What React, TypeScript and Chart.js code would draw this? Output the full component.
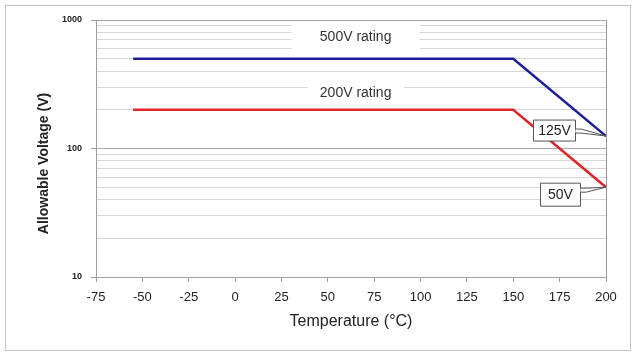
import { useEffect, useRef } from "react";
import { Chart, registerables } from "chart.js";
Chart.register(...registerables);

const temps500 = [-55, 150, 200];
const volts500 = [500, 500, 125];
const temps200 = [-55, 150, 200];
const volts200 = [200, 200, 50];
const xTickValues = [-75, -50, -25, 0, 25, 50, 75, 100, 125, 150, 175, 200];
const yGridValues = [10, 20, 30, 40, 50, 60, 70, 80, 90, 100, 200, 300, 400, 500, 600, 700, 800, 900, 1000];
const yLabelValues = [10, 100, 1000];
const ratingTexts = ["500V rating", "200V rating"];
const ratingX = [65, 65];
const ratingY = [740, 272];
const calloutTexts = ["125V", "50V"];
const calloutX = [200, 200];
const calloutY = [125, 50];

const FONT = "'Liberation Sans', Arial, sans-serif";

export default function App() {
  const ref = useRef<HTMLCanvasElement | null>(null);
  useEffect(() => {
    if (!ref.current) return;
    const annot = {
      id: "annot",
      beforeDatasetsDraw(chart: any) {
        const { ctx, scales } = chart;
        const boxes = [
          { w: 128, top: -15, bottom: 15 },
          { w: 96, top: -17, bottom: 11 },
        ];
        ratingTexts.forEach((t, i) => {
          const cx = scales.x.getPixelForValue(ratingX[i]);
          const cy = scales.y.getPixelForValue(ratingY[i]);
          const b = boxes[i];
          ctx.save();
          ctx.fillStyle = "#ffffff";
          ctx.fillRect(cx - b.w / 2, cy + b.top, b.w, b.bottom - b.top);
          ctx.fillStyle = "#333333";
          ctx.font = `14px ${FONT}`;
          ctx.textAlign = "center";
          ctx.textBaseline = "middle";
          ctx.fillText(t, cx, cy);
          ctx.restore();
        });
      },
      afterDatasetsDraw(chart: any) {
        const { ctx, scales } = chart;
        const offs = [
          { dx: -52, dy: -6, w: 42, h: 21 },
          { dx: -46, dy: 7, w: 40, h: 23 },
        ];
        calloutTexts.forEach((t, i) => {
          const px = scales.x.getPixelForValue(calloutX[i]);
          const py = scales.y.getPixelForValue(calloutY[i]);
          const o = offs[i];
          const cx = px + o.dx;
          const cy = py + o.dy;
          const l = cx - o.w / 2;
          const r = cx + o.w / 2;
          const tp = cy - o.h / 2;
          ctx.save();
          ctx.fillStyle = "#ffffff";
          ctx.strokeStyle = "#555555";
          ctx.lineWidth = 1;
          ctx.beginPath();
          ctx.rect(l + 0.5, tp + 0.5, o.w, o.h);
          ctx.fill();
          ctx.stroke();
          const y1 = i === 0 ? cy - 1 : cy - 6;
          const y2 = i === 0 ? cy + 3 : cy - 2;
          ctx.beginPath();
          ctx.moveTo(r + 0.5, y1);
          ctx.lineTo(r + 6, y1);
          ctx.lineTo(px, py);
          ctx.lineTo(r + 6, y2);
          ctx.lineTo(r + 0.5, y2);
          ctx.closePath();
          ctx.fill();
          ctx.beginPath();
          ctx.moveTo(r + 0.5, y1);
          ctx.lineTo(r + 6, y1);
          ctx.lineTo(px, py);
          ctx.lineTo(r + 6, y2);
          ctx.lineTo(r + 0.5, y2);
          ctx.stroke();
          ctx.fillStyle = "#222222";
          ctx.font = `14px ${FONT}`;
          ctx.textAlign = "center";
          ctx.textBaseline = "middle";
          ctx.fillText(t, cx + 0.5, cy + 1);
          ctx.restore();
        });
        const ca = chart.chartArea;
        ctx.save();
        ctx.translate(44, (ca.top + ca.bottom) / 2 + 15);
        ctx.rotate(-Math.PI / 2);
        ctx.fillStyle = "#222222";
        ctx.font = `bold 14px ${FONT}`;
        ctx.textAlign = "center";
        ctx.textBaseline = "middle";
        ctx.fillText("Allowable Voltage (V)", 0, 0);
        ctx.restore();
      },
    };
    const chart = new Chart(ref.current, {
      type: "line",
      data: {
        datasets: [
          {
            label: "500V rating",
            data: temps500.map((x, i) => ({ x, y: volts500[i] })),
            borderColor: "#1f1f9e",
            borderWidth: 2.5,
            pointRadius: 0,
            fill: false,
          },
          {
            label: "200V rating",
            data: temps200.map((x, i) => ({ x, y: volts200[i] })),
            borderColor: "#e0262a",
            borderWidth: 2.5,
            pointRadius: 0,
            fill: false,
          },
        ],
      },
      options: {
        animation: false,
        responsive: false,
        devicePixelRatio: 1,
        layout: { padding: { left: 30, top: 20, right: 34, bottom: 26 } },
        plugins: { legend: { display: false }, tooltip: { enabled: false } },
        scales: {
          x: {
            type: "linear",
            min: -75,
            max: 200,
            afterBuildTicks: (s: any) => {
              s.ticks = xTickValues.map((v) => ({ value: v }));
            },
            afterFit: (s: any) => {
              s.height = 57;
            },
            ticks: {
              autoSkip: false,
              maxRotation: 0,
              padding: 8,
              color: "#222222",
              font: { family: FONT, size: 13 },
            },
            grid: {
              drawOnChartArea: true,
              tickLength: 5,
              color: (c: any) => (c.tick && c.tick.value === 200 ? "#999999" : "rgba(0,0,0,0)"),
              tickColor: "#a0a0a0",
            },
            border: { display: true, color: "#a0a0a0" },
            title: {
              display: true,
              text: "Temperature (°C)",
              color: "#222222",
              font: { family: FONT, size: 16 },
              padding: { top: 2, bottom: 3 },
            },
          },
          y: {
            type: "logarithmic",
            min: 10,
            max: 1000,
            afterBuildTicks: (s: any) => {
              s.ticks = yGridValues.map((v) => ({ value: v, major: yLabelValues.includes(v) }));
            },
            afterFit: (s: any) => {
              s.width = 66;
            },
            ticks: {
              autoSkip: false,
              padding: 9,
              color: "#222222",
              font: { family: FONT, size: 9, weight: "bold" },
              callback: (v: any) => (yLabelValues.includes(Number(v)) ? String(v) : ""),
            },
            grid: {
              tickLength: 5,
              color: (c: any) => (c.tick && yLabelValues.includes(c.tick.value) ? "#a8a8a8" : "#d6d6d6"),
              tickColor: (c: any) => (c.tick && yLabelValues.includes(c.tick.value) ? "#a0a0a0" : "rgba(0,0,0,0)"),
            },
            border: { display: true, color: "#a0a0a0" },
          },
        },
      },
      plugins: [annot],
    } as any);
    return () => chart.destroy();
  }, []);
  return (
    <div style={{ position: "absolute", left: 0, top: 0, width: 640, height: 360, background: "#ffffff" }}>
      <div
        style={{
          position: "absolute",
          left: 5,
          top: 5,
          width: 626,
          height: 346,
          border: "1px solid #c4c4c4",
          boxSizing: "border-box",
        }}
      />
      <canvas ref={ref} width={640} height={360} style={{ position: "absolute", left: 0, top: 0 }} />
    </div>
  );
}
